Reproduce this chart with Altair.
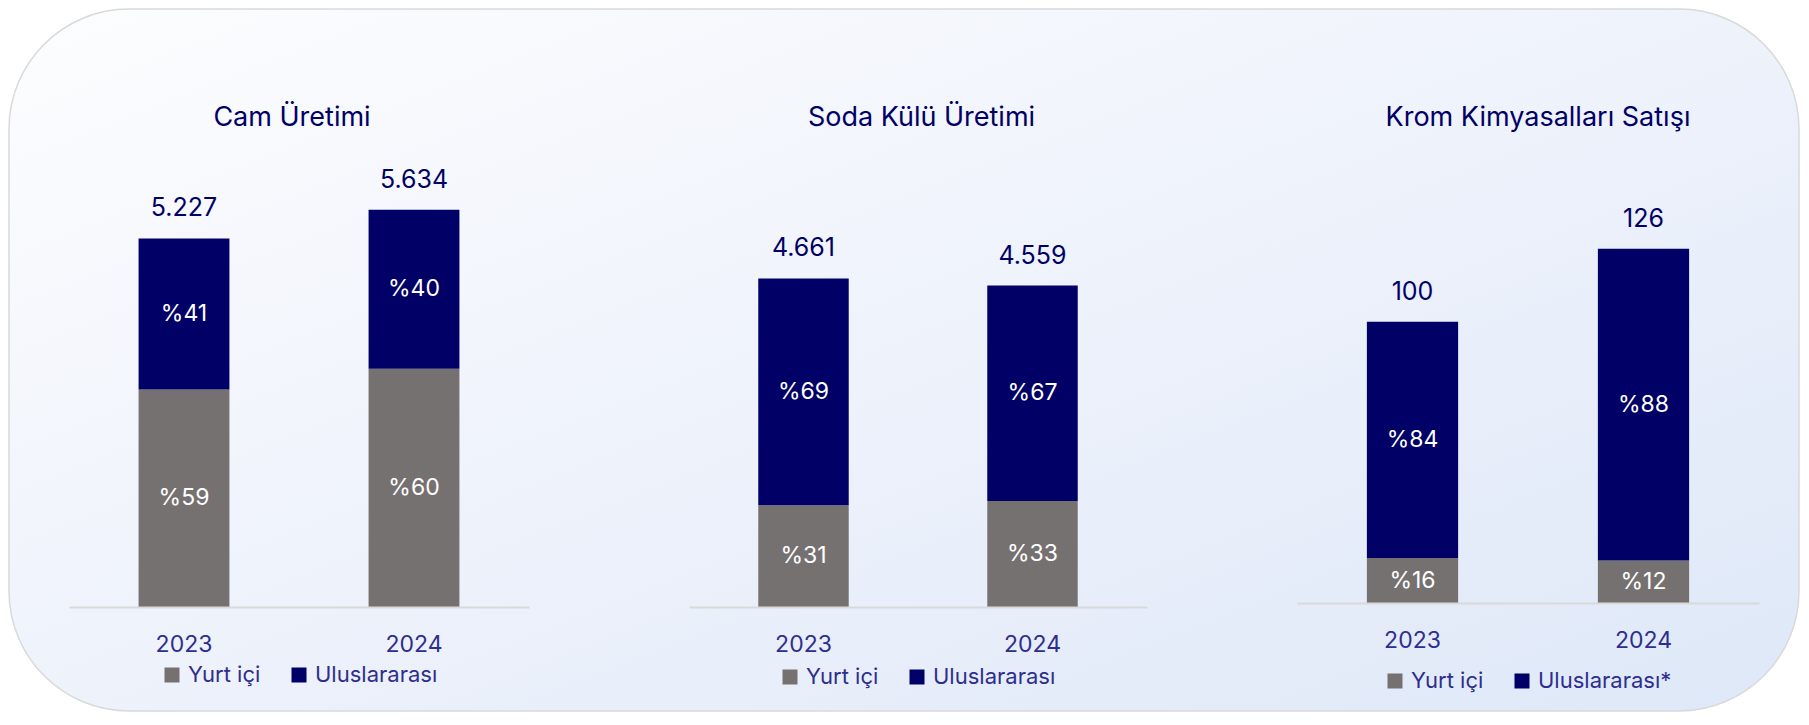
import altair as alt
import pandas as pd

# ---------------- data ----------------
years = ["2023", "2024"]
segments = ["Yurt içi", "Uluslararası"]
segments_krom = ["Yurt içi", "Uluslararası*"]
titles = ["Cam Üretimi", "Soda Külü Üretimi", "Krom Kimyasalları Satışı"]

cam_totals = [5227, 5634]
cam_domestic = [59, 60]
cam_international = [41, 40]

soda_totals = [4661, 4559]
soda_domestic = [31, 33]
soda_international = [69, 67]

krom_totals = [100, 126]
krom_domestic = [16, 12]
krom_international = [84, 88]

# ---------------- style ----------------
NAVY = "#000066"
GRAY = "#767171"
TEXT_BLUE = "#2E2E8F"
FONT = "Inter"


def fmt_tr(v):
    return f"{v:,}".replace(",", ".")


def build_frames(totals, domestic, international, seg_names):
    rows = []
    for year, total, d, i in zip(years, totals, domestic, international):
        base = 0.0
        for order, (name, pct) in enumerate(zip(seg_names, [d, i])):
            value = total * pct / 100.0
            rows.append({
                "year": year, "segment": name, "order": order,
                "start": base, "end": base + value, "mid": base + value / 2.0,
                "label": f"%{pct}",
            })
            base += value
    seg = pd.DataFrame(rows)
    tot = pd.DataFrame({"year": years, "total": totals,
                        "label": [fmt_tr(t) for t in totals]})
    return seg, tot


def panel(title, totals, domestic, international, seg_names, width, height,
          ymax, title_dx, legend_x, legend_y, xrange=None, background=False):
    seg, tot = build_frames(totals, domestic, international, seg_names)
    if xrange is None:
        xscale = alt.Scale(paddingInner=0.605, paddingOuter=0.3025)
    else:
        xscale = alt.Scale(paddingInner=0.605, paddingOuter=0.3025, range=xrange)
    xenc = alt.X(
        "year:N", sort=years, title=None, scale=xscale,
        axis=alt.Axis(labelAngle=0, ticks=False, tickSize=0, labelPadding=26,
                      labelFont=FONT, labelFontSize=23, labelColor=TEXT_BLUE,
                      domainColor="#D9D9D9", domainWidth=2, grid=False,
                      zindex=1),
    )
    yscale = alt.Scale(domain=[0, ymax], nice=False)

    bars = alt.Chart(seg).mark_bar().encode(
        x=xenc,
        y=alt.Y("start:Q", scale=yscale, axis=None),
        y2="end:Q",
        color=alt.Color(
            "segment:N",
            scale=alt.Scale(domain=seg_names, range=[GRAY, NAVY]),
            legend=alt.Legend(
                title=None, orient="none", legendX=legend_x, legendY=legend_y,
                direction="horizontal", symbolType="square", symbolSize=225,
                symbolStrokeWidth=0, labelFont=FONT, labelFontSize=22,
                labelColor=TEXT_BLUE, labelOffset=5, columnPadding=27,
            ),
        ),
        order=alt.Order("order:Q"),
    )
    pct = alt.Chart(seg).mark_text(
        color="white", font=FONT, fontSize=23, baseline="middle"
    ).encode(
        x=alt.X("year:N", sort=years),
        y=alt.Y("mid:Q", scale=yscale, axis=None),
        text="label:N",
    )
    tot_text = alt.Chart(tot).mark_text(
        color=NAVY, font=FONT, fontSize=25, baseline="alphabetic", dy=-22
    ).encode(
        x=alt.X("year:N", sort=years),
        y=alt.Y("total:Q", scale=yscale, axis=None),
        text="label:N",
    )
    title_text = alt.Chart(pd.DataFrame({"t": [title]})).mark_text(
        color=NAVY, font=FONT, fontSize=27, baseline="alphabetic", align="center"
    ).encode(
        x=alt.value(width / 2 + title_dx),
        y=alt.value(-58),
        text="t:N",
    )
    layers = [bars, pct, tot_text, title_text]
    if background:
        bg = alt.Chart(alt.Data(values=[{"k": 1}])).mark_rect(
            cornerRadius=120,
            fill=alt.LinearGradient(
                gradient="linear",
                stops=[
                    alt.GradientStop(color="#FCFDFE", offset=0),
                    alt.GradientStop(color="#EEF2FB", offset=0.5),
                    alt.GradientStop(color="#DEE8F8", offset=1),
                ],
                x1=0, y1=0, x2=1, y2=1,
            ),
            stroke="#D9D9D9", strokeWidth=1.5,
        ).encode(
            x=alt.value(-60), x2=alt.value(1730),
            y=alt.value(-175), y2=alt.value(527),
        )
        layers = [bg] + layers
    return alt.layer(*layers).properties(width=width, height=height)


p1 = panel(titles[0], cam_totals, cam_domestic, cam_international, segments,
           460, 423, 6000, -7, 92, 480, background=True)
p2 = panel(titles[1], soda_totals, soda_domestic, soda_international, segments,
           458, 423, 6000, 8.5, 95, 482, xrange=[5, 463])
p3 = panel(titles[2], krom_totals, krom_domestic, krom_international, segments_krom,
           462, 419, 149, 10, 87, 486)

chart = (
    alt.hconcat(p1, p2, p3, spacing=155, bounds="flush")
    .resolve_scale(x="independent", y="independent", color="independent")
    .resolve_legend(color="independent")
    .configure_view(stroke=None)
    .properties(padding=0, background="white")
)

chart.save("out.html", embed_options={"renderer": "svg", "actions": False})
